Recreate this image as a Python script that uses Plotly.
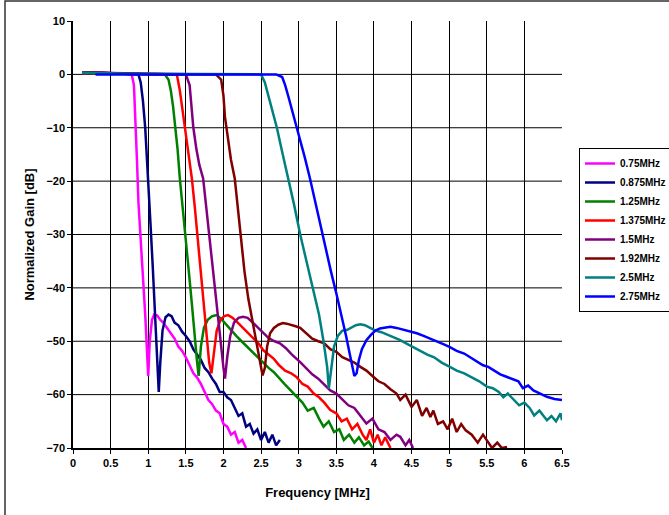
import plotly.graph_objects as go

names = ["0.75MHz", "0.875MHz", "1.25MHz", "1.375MHz", "1.5MHz", "1.92MHz", "2.5MHz", "2.75MHz"]
colors = ["#FF00FF", "#000080", "#008000", "#FF0000", "#800080", "#800000", "#008080", "#0000FF"]

f_075 = [0.12, 0.2, 0.3, 0.4, 0.5, 0.6, 0.7, 0.78, 0.81, 0.83, 0.85, 0.87, 0.9, 0.93, 0.96, 0.99, 1.0, 1.02, 1.05, 1.08, 1.12, 1.16, 1.2, 1.25, 1.3, 1.35, 1.4, 1.45, 1.5, 1.55, 1.6, 1.65, 1.7, 1.75, 1.8, 1.85, 1.9, 1.95, 2.0, 2.05, 2.1, 2.15, 2.2, 2.25, 2.3]
g_075 = [0.3, 0.4, 0.3, 0.3, 0.2, 0.2, 0.1, 0, -2, -8, -16, -24, -32, -38, -45, -53, -56.5, -50, -46, -45, -45.2, -46, -46.5, -47.5, -48.5, -49.5, -51, -51.8, -53, -54.5, -56, -56.8, -58, -59.5, -61, -61.8, -63, -63.5, -65.5, -66, -67.5, -67, -69, -68.5, -70]

f_0875 = [0.12, 0.25, 0.4, 0.55, 0.7, 0.8, 0.87, 0.9, 0.93, 0.96, 1.0, 1.03, 1.06, 1.09, 1.12, 1.14, 1.16, 1.19, 1.23, 1.27, 1.31, 1.35, 1.4, 1.45, 1.5, 1.55, 1.6, 1.65, 1.7, 1.75, 1.8, 1.85, 1.9, 1.95, 2.0, 2.05, 2.1, 2.15, 2.2, 2.25, 2.3, 2.35, 2.4, 2.45, 2.5, 2.55, 2.6, 2.65, 2.7, 2.75]
g_0875 = [0.3, 0.4, 0.3, 0.2, 0.2, 0.1, 0, -1.5, -5, -10, -19, -28, -36, -44, -52, -59.5, -54, -48, -45.5, -45, -45.3, -46.5, -47, -48.2, -49, -50, -51.5, -52.5, -53.5, -55, -55.8, -57, -58, -59.5, -59.5, -60.5, -61, -62.5, -64, -63.5, -66, -65.5, -67.3, -66.5, -68.5, -67, -69, -67.5, -69.5, -68.5]

f_125 = [0.12, 0.3, 0.5, 0.7, 0.9, 1.1, 1.22, 1.27, 1.3, 1.33, 1.36, 1.39, 1.42, 1.46, 1.5, 1.54, 1.58, 1.62, 1.65, 1.67, 1.7, 1.74, 1.79, 1.85, 1.91, 1.97, 2.03, 2.1, 2.17, 2.24, 2.31, 2.38, 2.45, 2.53, 2.6, 2.67, 2.74, 2.81, 2.88, 2.97, 3.05, 3.12, 3.2, 3.27, 3.33, 3.4, 3.47, 3.54, 3.6, 3.67, 3.74, 3.8, 3.87, 3.93, 3.98]
g_125 = [0.2, 0.3, 0.2, 0.1, 0.1, 0, 0, -1, -3, -6, -10, -14, -19.5, -25, -31, -37, -43, -50, -54, -56.5, -51, -47.5, -46, -45.3, -45.1, -45.8, -46.8, -48, -49, -50, -51, -52, -53, -54.1, -55, -55.8, -57, -58, -59, -60.4, -61.5, -63, -62.5, -64.5, -66, -65, -67, -66.5, -68.5, -67.5, -69, -68, -69.5, -68.8, -70]

f_1375 = [0.12, 0.3, 0.5, 0.7, 0.9, 1.1, 1.3, 1.38, 1.42, 1.45, 1.49, 1.53, 1.58, 1.62, 1.66, 1.7, 1.74, 1.78, 1.81, 1.84, 1.87, 1.91, 1.96, 2.01, 2.06, 2.12, 2.19, 2.26, 2.33, 2.4, 2.47, 2.53, 2.6, 2.67, 2.74, 2.82, 2.9, 2.97, 3.05, 3.12, 3.2, 3.27, 3.34, 3.42, 3.5, 3.57, 3.64, 3.71, 3.78, 3.85, 3.9, 3.95, 4.0, 4.05, 4.1, 4.15, 4.22]
g_1375 = [0.2, 0.3, 0.2, 0.2, 0.1, 0, 0, 0, -3, -6, -10, -14, -19.5, -25, -31, -37, -43, -50, -54, -56, -52, -48, -46, -45.3, -45.1, -45.6, -46.5, -47.5, -48.5, -49.5, -50.5, -51.7, -52.5, -53.3, -54.5, -55.5, -56, -56.7, -58, -58.5, -59.8, -60.5, -61.5, -62.9, -63.5, -65, -64.5, -66.5, -65.5, -67.5, -68.5, -66.5, -69, -67.5, -69.5, -68, -70]

f_15 = [0.12, 0.3, 0.5, 0.7, 0.9, 1.1, 1.3, 1.5, 1.55, 1.58, 1.6, 1.64, 1.68, 1.73, 1.78, 1.83, 1.88, 1.93, 1.97, 2.0, 2.02, 2.05, 2.09, 2.14, 2.2, 2.26, 2.32, 2.39, 2.46, 2.53, 2.6, 2.68, 2.75, 2.83, 2.91, 3.02, 3.1, 3.18, 3.26, 3.34, 3.42, 3.5, 3.58, 3.66, 3.74, 3.82, 3.9, 3.98, 4.06, 4.14, 4.22, 4.3, 4.35, 4.42, 4.47, 4.52]
g_15 = [0.2, 0.3, 0.2, 0.2, 0.1, 0.1, 0, 0, -2, -6, -10, -14, -17, -19.5, -26, -32, -38, -45, -51, -55, -57, -53, -49, -46.5, -45.6, -45.4, -45.6, -46.5, -47.5, -48.5, -49.4, -50, -50.4, -51.3, -52.5, -53.9, -55, -56.2, -57, -58.2, -59.2, -59.8, -61, -62, -62.5, -64, -65.4, -64.5, -66.5, -67, -68.5, -67.5, -67.9, -69.5, -68.5, -70]

f_192 = [0.12, 0.3, 0.5, 0.7, 0.9, 1.1, 1.3, 1.5, 1.7, 1.9, 1.97, 2.0, 2.02, 2.06, 2.1, 2.15, 2.19, 2.23, 2.28, 2.33, 2.38, 2.43, 2.48, 2.52, 2.55, 2.58, 2.62, 2.67, 2.73, 2.79, 2.84, 2.9, 2.96, 3.02, 3.1, 3.18, 3.26, 3.34, 3.42, 3.5, 3.58, 3.66, 3.74, 3.82, 3.9, 3.98, 4.06, 4.14, 4.22, 4.3, 4.35, 4.42, 4.5, 4.57, 4.64, 4.7, 4.75, 4.79, 4.85, 4.92, 4.98, 5.04, 5.1, 5.16, 5.22, 5.3, 5.38, 5.45, 5.5, 5.57, 5.64, 5.7, 5.77]
g_192 = [0.3, 0.3, 0.2, 0.2, 0.1, 0.1, 0, 0, 0, 0, -1, -4, -8, -12, -16, -19.5, -25, -31, -37, -42, -46, -50, -54, -56.4, -55, -51, -48.5, -47.5, -46.9, -46.6, -46.7, -46.9, -47.2, -47.5, -48.5, -49.5, -50, -50.4, -51.5, -52, -53, -53.5, -54, -54.8, -55.5, -56.5, -57.5, -58, -59, -59.8, -61, -60, -62.3, -61, -64, -62.5, -64.2, -63, -65.5, -65, -66.5, -64.5, -67, -65.5, -66.7, -67.5, -69, -67.5, -68.5, -70, -69, -70, -69.8]

f_25 = [0.12, 0.3, 0.5, 0.7, 0.9, 1.1, 1.3, 1.5, 1.7, 1.9, 2.1, 2.3, 2.5, 2.55, 2.6, 2.65, 2.71, 2.78, 2.86, 2.94, 3.02, 3.1, 3.19, 3.27, 3.33, 3.38, 3.4, 3.43, 3.47, 3.52, 3.58, 3.64, 3.7, 3.76, 3.82, 3.88, 3.95, 4.02, 4.1, 4.18, 4.26, 4.35, 4.44, 4.53, 4.62, 4.71, 4.8, 4.9, 5.01, 5.1, 5.2, 5.3, 5.4, 5.5, 5.58, 5.66, 5.72, 5.78, 5.86, 5.93, 6.0, 6.07, 6.13, 6.2, 6.25, 6.3, 6.36, 6.42, 6.48, 6.5]
g_25 = [0.3, 0.2, 0.2, 0.1, 0.1, 0.1, 0, 0, 0, 0, 0.1, 0, 0, -1.5, -4, -7, -10, -14.5, -19.2, -24.5, -30, -35, -40, -45, -50, -55, -58.9, -55, -51, -49, -48, -47.9, -47.5, -47, -46.8, -47, -47.5, -48, -48.3, -48.8, -49.2, -49.8, -50.5, -51.2, -51.8, -52.5, -53, -54, -54.8, -55.5, -56, -56.8, -57.5, -58.5, -58.8, -59.5, -60.5, -59.8, -61, -62, -61.5, -62.5, -63.9, -63, -63.9, -64.8, -64, -65, -63.5, -64.8]

f_275 = [0.3, 0.5, 0.7, 0.9, 1.1, 1.3, 1.5, 1.7, 1.9, 2.1, 2.3, 2.5, 2.7, 2.78, 2.82, 2.86, 2.9, 2.94, 2.97, 3.02, 3.08, 3.15, 3.22, 3.29, 3.36, 3.43, 3.5, 3.57, 3.63, 3.68, 3.72, 3.74, 3.77, 3.8, 3.84, 3.9, 3.96, 4.02, 4.08, 4.15, 4.22, 4.3, 4.38, 4.46, 4.57, 4.66, 4.75, 4.85, 4.93, 5.01, 5.1, 5.2, 5.28, 5.37, 5.45, 5.52, 5.6, 5.68, 5.77, 5.85, 5.92, 5.98, 6.05, 6.12, 6.2, 6.3, 6.4, 6.48, 6.5]
g_275 = [0, 0, 0, 0, 0, 0, 0, 0, 0, 0.1, 0, 0, 0, -0.5, -2, -4, -6, -8, -10, -12.5, -15.5, -19.5, -24, -28, -32.5, -37, -41, -45, -49, -52.5, -55.5, -56.5, -56, -53.5, -51.5, -49.8, -48.8, -48, -47.6, -47.4, -47.3, -47.5, -47.8, -48.1, -48.5, -49, -49.5, -50.2, -50.6, -51.1, -51.8, -52.3, -53, -53.9, -54.5, -54.8, -55.5, -56.2, -56.7, -57.2, -57.5, -58.8, -58.3, -59.2, -59.8, -60.4, -60.8, -61, -61]

freqs = [f_075, f_0875, f_125, f_1375, f_15, f_192, f_25, f_275]
gains = [g_075, g_0875, g_125, g_1375, g_15, g_192, g_25, g_275]

x_ticks = [0, 0.5, 1, 1.5, 2, 2.5, 3, 3.5, 4, 4.5, 5, 5.5, 6, 6.5]
x_tick_text = ["0", "0.5", "1", "1.5", "2", "2.5", "3", "3.5", "4", "4.5", "5", "5.5", "6", "6.5"]
y_ticks = [10, 0, -10, -20, -30, -40, -50, -60, -70]

W, H = 669, 515
L, T = 73, 21
PW, PH = 489, 427
R = W - L - PW
B = H - T - PH

fig = go.Figure()
for f, g, n, c in zip(freqs, gains, names, colors):
    fig.add_trace(go.Scatter(x=f, y=g, mode="lines", name=n,
                             line=dict(color=c, width=2.5)))

shapes = []
for yv in [0, -10, -20, -30, -40, -50, -60]:
    shapes.append(dict(type="line", xref="x", yref="y", x0=0, x1=6.5, y0=yv, y1=yv,
                       line=dict(color="#000000", width=1), layer="below"))
# outer frame
shapes.append(dict(type="rect", xref="paper", yref="paper", x0=(5 - L) / PW, x1=2,
                   y0=-1, y1=1 + (T - 1) / PH, line=dict(color="#333333", width=1.5),
                   fillcolor="rgba(0,0,0,0)", layer="below"))

font_family = "Liberation Sans, Arial, sans-serif"
fig.update_layout(
    width=W, height=H,
    margin=dict(l=L, r=R, t=T, b=B, autoexpand=False),
    paper_bgcolor="white", plot_bgcolor="white",
    font=dict(family=font_family, color="black"),
    shapes=shapes,
    showlegend=True,
    legend=dict(x=(579 - L) / PW, y=(T + PH - 148) / PH, xanchor="left", yanchor="top",
                bordercolor="black", borderwidth=1, bgcolor="white",
                font=dict(family=font_family, size=10, color="black", weight="bold"),
                itemwidth=30, tracegroupgap=0),
    xaxis=dict(range=[0, 6.5], tickvals=x_ticks, ticktext=x_tick_text,
               showgrid=True, gridcolor="#000000", gridwidth=1,
               showline=True, linecolor="black", linewidth=1.5,
               ticks="outside", ticklen=4, tickcolor="black", zeroline=False,
               tickfont=dict(size=11, weight="bold"),
               title=dict(text="Frequency [MHz]", font=dict(size=13, weight="bold"), standoff=20)),
    yaxis=dict(range=[-70, 10], tickvals=y_ticks,
               showgrid=False, showline=True, linecolor="black", linewidth=1.5,
               ticks="outside", ticklen=4, tickcolor="black", zeroline=False,
               tickfont=dict(size=11, weight="bold"),
               title=dict(text="Normalized Gain [dB]", font=dict(size=13, weight="bold"), standoff=9)),
)

fig.write_html("out.html", config={"displayModeBar": False},
               post_script="document.body.style.margin='0';document.body.style.overflow='hidden';")
